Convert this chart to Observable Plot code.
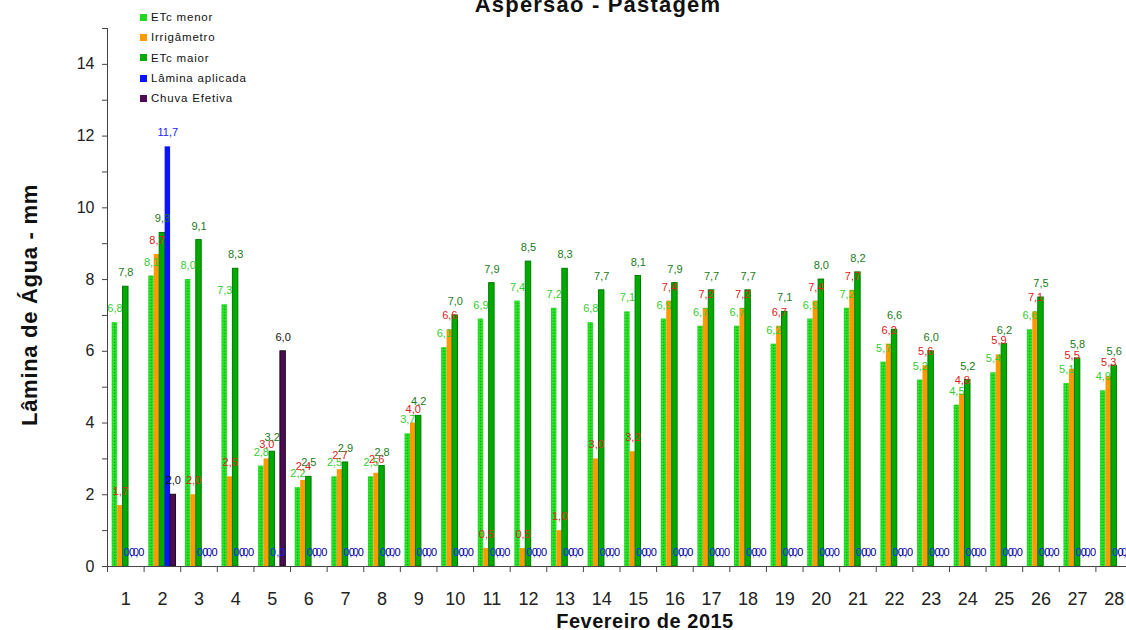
<!DOCTYPE html>
<html><head><meta charset="utf-8">
<script src="https://cdn.jsdelivr.net/npm/d3@7"></script>
<script src="https://cdn.jsdelivr.net/npm/@observablehq/plot@0.6"></script>
<style>
body{margin:0;background:#fff;width:1126px;height:630px;overflow:hidden;position:relative;font-family:"Liberation Sans",Arial,sans-serif;color:#111}
#title{position:absolute;left:0;width:1196px;top:-6px;line-height:22px;text-align:center;font-weight:bold;font-size:22px;letter-spacing:1.2px}
#ylab{position:absolute;left:30px;top:305px;transform:translate(-50%,-50%) rotate(-90deg);white-space:nowrap;font-weight:bold;font-size:22px;letter-spacing:0.7px}
#xlab{position:absolute;left:0;width:1290px;top:610px;line-height:22px;text-align:center;font-weight:bold;font-size:20px;letter-spacing:0.5px}
#legend{position:absolute;left:140px;top:7px;font-size:11.5px;letter-spacing:0.8px;color:#111}
#legend div{height:20.3px;line-height:20px;display:flex;align-items:center}
#legend span.sw{display:inline-block;width:7px;height:7px;margin-right:4px}
#chart{position:absolute;left:0;top:0}
</style></head>
<body>
<div id="chart"></div>
<div id="title">Aspersão - Pastagem</div>
<div id="ylab">Lâmina de Água - mm</div>
<div id="xlab">Fevereiro de 2015</div>
<div id="legend"></div>
<script>
const days = d3.range(1, 29);
const seriesNames = ["ETc menor", "Irrigâmetro", "ETc maior", "Lâmina aplicada", "Chuva Efetiva"];
const etcMenor = [6.8,8.1,8.0,7.3,2.8,2.2,2.5,2.5,3.7,6.1,6.9,7.4,7.2,6.8,7.1,6.9,6.7,6.7,6.2,6.9,7.2,5.7,5.2,4.5,5.4,6.6,5.1,4.9];
const irrigametro = [1.7,8.7,2.0,2.5,3.0,2.4,2.7,2.6,4.0,6.6,0.5,0.5,1.0,3.0,3.2,7.4,7.2,7.2,6.7,7.4,7.7,6.2,5.6,4.8,5.9,7.1,5.5,5.3];
const etcMaior = [7.8,9.3,9.1,8.3,3.2,2.5,2.9,2.8,4.2,7.0,7.9,8.5,8.3,7.7,8.1,7.9,7.7,7.7,7.1,8.0,8.2,6.6,6.0,5.2,6.2,7.5,5.8,5.6];
const laminaAplicada = [0,11.7,0,0,0,0,0,0,0,0,0,0,0,0,0,0,0,0,0,0,0,0,0,0,0,0,0,0];
const chuvaEfetiva = [0,2.0,0,0,6.0,0,0,0,0,0,0,0,0,0,0,0,0,0,0,0,0,0,0,0,0,0,0,0];
const yTicks = d3.range(0, 16);

const fills = ["url(#dotsGreen)", "#ff9900", "#00aa00", "#0a14ff", "#4e0a57"];
const strokes = ["none", "none", "#007a00", "none", "#111"];
const swatches = ["#22d822", "#ff9900", "#00aa00", "#0a14ff", "#4e0a57"];
const labelColors = ["#33cc33", "#e02020", "#1a7a1a", "#1a1aff", "#111"];

const seriesValues = [etcMenor, irrigametro, etcMaior, laminaAplicada, chuvaEfetiva];
const rows = [];
days.forEach((d, i) => seriesNames.forEach((s, j) => rows.push({day: d, series: s, k: j, value: seriesValues[j][i]})));

const fmt = v => v.toFixed(1).replace(".", ",");
const W = 1126, ML = 107, MR = -6;
const step = (W - MR - ML) / days.length;

const barRows = rows.filter(r => r.value > 0);
const chart = Plot.plot({
  width: W, height: 630,
  marginLeft: ML, marginRight: MR, marginTop: 28, marginBottom: 64,
  style: {fontFamily: "'Liberation Sans', Arial, sans-serif", overflow: "visible"},
  fx: {domain: days, paddingInner: 0, paddingOuter: 0, round: false, axis: null, label: null},
  x: {domain: seriesNames, paddingInner: 0, paddingOuter: 0.86, round: false, axis: null},
  y: {domain: [0, 15], axis: null},
  marks: [
    Plot.barY(barRows, {fx: "day", x: "series", y: "value",
      fill: d => fills[d.k], stroke: d => strokes[d.k], strokeWidth: 1, insetLeft: 0, insetRight: 0}),
    Plot.text(rows, {fx: "day", x: "series", y: "value", text: d => fmt(d.value),
      fill: d => (d.k === 4 && d.value === 0) ? "#000080" : labelColors[d.k],
      dy: -14, fontSize: d => 11, lineAnchor: "middle"}),
    Plot.ruleY([0], {stroke: "#444", strokeWidth: 1}),
    Plot.frame({anchor: "left", facetAnchor: "left", stroke: "#444"}),
    Plot.axisY({ticks: yTicks, tickSize: 5, tickPadding: 8, fontSize: 16, stroke: "#444", fill: "#222",
      tickFormat: d => d % 2 === 0 ? String(d) : "", label: null}),
    Plot.axisFx({anchor: "bottom", tickSize: 0, tickPadding: 26, fontSize: 18, fill: "#222", label: null}),
    Plot.axisFx({anchor: "bottom", tickSize: 6, tickFormat: () => "", dx: -step / 2, stroke: "#444", label: null})
  ]
});
document.getElementById("chart").appendChild(chart);

// dotted texture for ETc menor
const svgNS = "http://www.w3.org/2000/svg";
const svg = chart.tagName.toLowerCase() === "svg" ? chart : chart.querySelector("svg");
const defs = document.createElementNS(svgNS, "defs");
defs.innerHTML = '<pattern id="dotsGreen" width="3" height="3" patternUnits="userSpaceOnUse">' +
  '<rect width="3" height="3" fill="#22dd22"/><rect x="0" y="0" width="1" height="1" fill="#18a018"/>' +
  '<rect x="2" y="1" width="1" height="1" fill="#3cf03c"/></pattern>';
svg.insertBefore(defs, svg.firstChild);

const legend = document.getElementById("legend");
seriesNames.forEach((s, j) => {
  const div = document.createElement("div");
  const sw = document.createElement("span");
  sw.className = "sw";
  sw.style.background = swatches[j];
  div.appendChild(sw);
  div.appendChild(document.createTextNode(s));
  legend.appendChild(div);
});
</script>
</body></html>
